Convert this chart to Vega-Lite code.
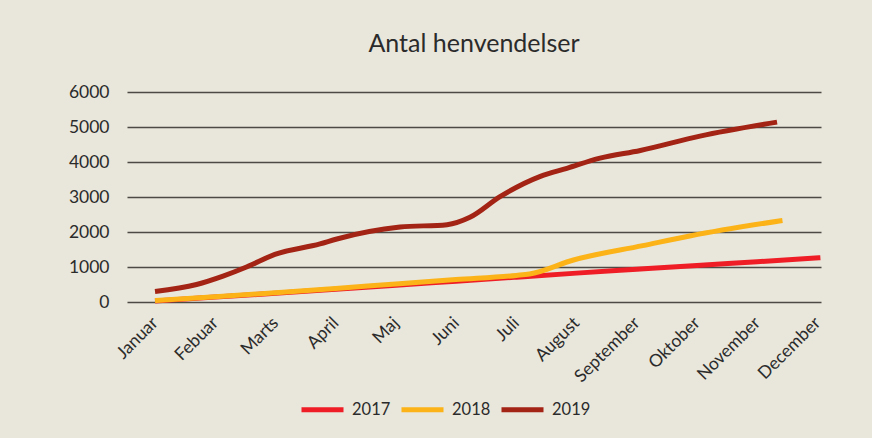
{
  "$schema": "https://vega.github.io/schema/vega-lite/v6.json",
  "autosize": {"type": "none"},
  "width": 694,
  "height": 210,
  "padding": {"left": 127, "top": 92, "right": 51, "bottom": 136},
  "background": "#e9e6db",
  "title": {
    "text": "Antal henvendelser",
    "fontSize": 25,
    "font": "Lato",
    "fontWeight": "normal",
    "color": "#2b2b2b",
    "anchor": "middle",
    "offset": 26
  },
  "data": {
    "values": [
      {"maaned": 1, "antal": 30, "aar": "2017"},
      {"maaned": 2, "antal": 140, "aar": "2017"},
      {"maaned": 3, "antal": 250, "aar": "2017"},
      {"maaned": 4, "antal": 365, "aar": "2017"},
      {"maaned": 5, "antal": 480, "aar": "2017"},
      {"maaned": 6, "antal": 595, "aar": "2017"},
      {"maaned": 7, "antal": 710, "aar": "2017"},
      {"maaned": 8, "antal": 825, "aar": "2017"},
      {"maaned": 9, "antal": 935, "aar": "2017"},
      {"maaned": 10, "antal": 1045, "aar": "2017"},
      {"maaned": 11, "antal": 1150, "aar": "2017"},
      {"maaned": 12.05, "antal": 1265, "aar": "2017"},
      {"maaned": 1, "antal": 40, "aar": "2018"},
      {"maaned": 2, "antal": 150, "aar": "2018"},
      {"maaned": 3, "antal": 265, "aar": "2018"},
      {"maaned": 4, "antal": 385, "aar": "2018"},
      {"maaned": 5, "antal": 515, "aar": "2018"},
      {"maaned": 6, "antal": 640, "aar": "2018"},
      {"maaned": 7, "antal": 760, "aar": "2018"},
      {"maaned": 7.22, "antal": 800, "aar": "2018"},
      {"maaned": 7.95, "antal": 1200, "aar": "2018"},
      {"maaned": 9.1, "antal": 1610, "aar": "2018"},
      {"maaned": 9.9, "antal": 1894, "aar": "2018"},
      {"maaned": 11.42, "antal": 2330, "aar": "2018"},
      {"maaned": 1, "antal": 300, "aar": "2019"},
      {"maaned": 1.69, "antal": 500, "aar": "2019"},
      {"maaned": 2.13, "antal": 740, "aar": "2019"},
      {"maaned": 2.52, "antal": 1000, "aar": "2019"},
      {"maaned": 2.99, "antal": 1360, "aar": "2019"},
      {"maaned": 3.74, "antal": 1660, "aar": "2019"},
      {"maaned": 4.02, "antal": 1800, "aar": "2019"},
      {"maaned": 5.07, "antal": 2140, "aar": "2019"},
      {"maaned": 5.85, "antal": 2210, "aar": "2019"},
      {"maaned": 6.23, "antal": 2420, "aar": "2019"},
      {"maaned": 6.73, "antal": 3010, "aar": "2019"},
      {"maaned": 7.4, "antal": 3590, "aar": "2019"},
      {"maaned": 7.84, "antal": 3820, "aar": "2019"},
      {"maaned": 8.39, "antal": 4110, "aar": "2019"},
      {"maaned": 9.06, "antal": 4330, "aar": "2019"},
      {"maaned": 10.05, "antal": 4740, "aar": "2019"},
      {"maaned": 11.33, "antal": 5140, "aar": "2019"}
    ]
  },
  "mark": {"type": "line", "strokeWidth": 5, "interpolate": "monotone", "strokeCap": "butt"},
  "encoding": {
    "x": {
      "field": "maaned",
      "type": "quantitative",
      "scale": {"domain": [0.535, 12.06], "nice": false, "zero": false},
      "axis": {
        "title": null,
        "values": [1, 2, 3, 4, 5, 6, 7, 8, 9, 10, 11, 12],
        "labelExpr": "['Januar','Febuar','Marts','April','Maj','Juni','Juli','August','September','Oktober','November','December'][datum.value - 1]",
        "labelAngle": -45,
        "labelAlign": "right",
        "labelBaseline": "middle",
        "labelPadding": 18,
        "labelFont": "Lato",
        "labelFontSize": 17.5,
        "labelColor": "#2b2b2b",
        "ticks": false,
        "domain": false,
        "grid": false,
        "labelFlush": false,
        "labelOverlap": false
      }
    },
    "y": {
      "field": "antal",
      "type": "quantitative",
      "scale": {"domain": [0, 6000], "nice": false},
      "axis": {
        "title": null,
        "format": "d",
        "values": [0, 1000, 2000, 3000, 4000, 5000, 6000],
        "labelFont": "Lato",
        "labelFontSize": 17.5,
        "labelColor": "#2b2b2b",
        "labelPadding": 18,
        "ticks": false,
        "domain": false,
        "grid": true,
        "gridColor": "#4d4a45",
        "gridWidth": 1.5,
        "gridOpacity": 1
      }
    },
    "color": {
      "field": "aar",
      "type": "nominal",
      "scale": {"domain": ["2017", "2018", "2019"], "range": ["#ee1d26", "#fbb317", "#a32314"]},
      "legend": {
        "title": null,
        "orient": "none",
        "legendX": 172,
        "legendY": 294,
        "direction": "horizontal",
        "symbolType": "stroke",
        "symbolSize": 1764,
        "symbolStrokeWidth": 5,
        "labelFont": "Lato",
        "labelFontSize": 16.5,
        "labelColor": "#2b2b2b",
        "labelOffset": 6,
        "columnPadding": 0
      }
    }
  },
  "config": {"view": {"stroke": null}}
}
